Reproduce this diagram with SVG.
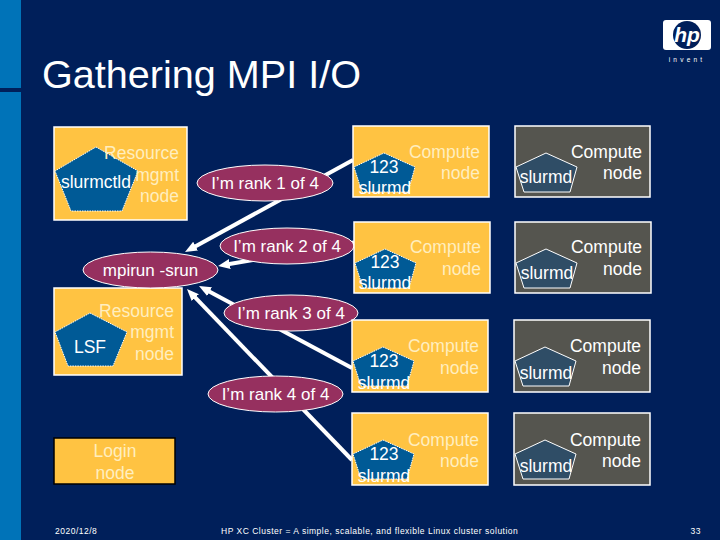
<svg xmlns="http://www.w3.org/2000/svg" width="720" height="540" viewBox="0 0 720 540">
<style>
text{font-family:"Liberation Sans",Arial,sans-serif;font-size:17.5px;fill:#fff}
.y{fill:#ffc342;stroke:#fff;stroke-width:1.5}
.g{fill:#55554f;stroke:#fff;stroke-width:1.5}
.p{fill:#005a96;stroke:#fff;stroke-width:1;stroke-dasharray:1.5 1}
.d{fill:#2f4d66;stroke:#fff;stroke-width:1}
.e{fill:#96305f;stroke:#fff;stroke-width:1}
.pale{fill:#ffeebf}
.r{text-anchor:end}
.m{text-anchor:middle}
.big{font-size:17px}
.f{font-size:8.5px;letter-spacing:.5px}
.c{stroke:#fff;stroke-width:4;fill:none;marker-end:url(#a)}
</style>
<defs>
<marker id="a" markerUnits="userSpaceOnUse" markerWidth="14" markerHeight="14" viewBox="0 0 14 14" refX="2" refY="7" orient="auto"><path d="M0 2L12 7L0 12Z" fill="#fff"/></marker>
<polygon id="pent" points="31,27 62,41 55,66 9,66 1,41"/>
</defs>
<rect width="720" height="540" fill="#001f5a"/>
<rect width="21" height="88" fill="#0073b8"/>
<rect y="92" width="21" height="448" fill="#0073b8"/>
<text x="42" y="88" style="font-size:39.6px">Gathering MPI I/O</text>
<g id="logo">
<rect x="663" y="20" width="48" height="30" rx="3" fill="#fff"/>
<circle cx="687" cy="35" r="14" fill="#001f5a"/>
<text x="687" y="42" class="m" style="font-size:21px;font-weight:bold;font-style:italic">hp</text>
<text x="687" y="62" class="m" style="font-size:6.5px;letter-spacing:3.2px">invent</text>
</g>
<g id="connectors">
<line class="c" x1="353" y1="160" x2="193.8" y2="247.2"/>
<line class="c" x1="354" y1="242.5" x2="227.9" y2="264.3"/>
<line class="c" x1="352" y1="368" x2="207.8" y2="290.7"/>
<line class="c" x1="352" y1="460" x2="193.9" y2="296.2"/>
</g>
<g id="slurmctld-node">
<rect class="y" x="54" y="127" width="133" height="93"/>
<polygon class="p" points="96,147 138,171 122,211 71,211 55,171"/>
<text class="r pale" x="179" y="159">Resource</text>
<text class="r pale" x="179" y="181">mgmt</text>
<text class="r pale" x="179" y="202">node</text>
<text class="m" x="96" y="194" style="display:none"></text>
<text class="m" x="96" y="194" dy="-6">slurmctld</text>
</g>
<g id="lsf-node">
<rect class="y" x="54" y="288" width="128" height="87"/>
<polygon class="p" points="90,313 127,332 113,366 68,366 55,332"/>
<text class="r pale" x="174" y="317">Resource</text>
<text class="r pale" x="174" y="338">mgmt</text>
<text class="r pale" x="174" y="360">node</text>
<text class="m" x="90" y="353">LSF</text>
</g>
<g id="login-node">
<rect x="54" y="438" width="121" height="46" fill="#ffc342" stroke="#000" stroke-width="1.5"/>
<text class="m pale" x="115" y="457">Login</text>
<text class="m pale" x="115" y="479">node</text>
</g>
<g id="mpirun"><ellipse class="e" cx="150.5" cy="270" rx="67.5" ry="18"/><text class="m big" x="150.5" y="276">mpirun -srun</text></g>
<g id="rank1"><ellipse class="e" cx="265" cy="183" rx="68" ry="18"/><text class="m big" x="265" y="189">I’m rank 1 of 4</text></g>
<g id="rank2"><ellipse class="e" cx="287" cy="246" rx="67" ry="18"/><text class="m big" x="287" y="252">I’m rank 2 of 4</text></g>
<g id="rank3"><ellipse class="e" cx="291" cy="313" rx="67" ry="18"/><text class="m big" x="291" y="319">I’m rank 3 of 4</text></g>
<g id="rank4"><ellipse class="e" cx="275.5" cy="394" rx="67.5" ry="18"/><text class="m big" x="275.5" y="400">I’m rank 4 of 4</text></g>
<g id="compute-1a" transform="translate(353,126)"><rect class="y" width="136" height="71"/><use href="#pent" class="p"/><text class="r pale" x="127" y="32">Compute</text><text class="r pale" x="127" y="53">node</text><text class="m" x="31" y="47">123</text><text class="m" x="32" y="68">slurmd</text></g>
<g id="compute-2a" transform="translate(354,222)"><rect class="y" width="136" height="71"/><use href="#pent" class="p"/><text class="r pale" x="127" y="31">Compute</text><text class="r pale" x="127" y="53">node</text><text class="m" x="31" y="46">123</text><text class="m" x="31" y="67">slurmd</text></g>
<g id="compute-3a" transform="translate(352,320)"><rect class="y" width="136" height="72"/><use href="#pent" class="p"/><text class="r pale" x="127" y="32">Compute</text><text class="r pale" x="127" y="54">node</text><text class="m" x="32" y="47">123</text><text class="m" x="32" y="69">slurmd</text></g>
<g id="compute-4a" transform="translate(352,413)"><rect class="y" width="136" height="72"/><use href="#pent" class="p"/><text class="r pale" x="127" y="33">Compute</text><text class="r pale" x="127" y="54">node</text><text class="m" x="32" y="47">123</text><text class="m" x="32" y="69">slurmd</text></g>
<g id="compute-1b" transform="translate(515,126)"><rect class="g" width="135" height="71"/><use href="#pent" class="d"/><text class="r" x="127" y="32">Compute</text><text class="r" x="127" y="53">node</text><text class="m" x="31" y="57">slurmd</text></g>
<g id="compute-2b" transform="translate(515,222)"><rect class="g" width="136" height="71"/><use href="#pent" class="d"/><text class="r" x="127" y="31">Compute</text><text class="r" x="127" y="53">node</text><text class="m" x="32" y="57">slurmd</text></g>
<g id="compute-3b" transform="translate(514,320)"><rect class="g" width="136" height="72"/><use href="#pent" class="d"/><text class="r" x="127" y="32">Compute</text><text class="r" x="127" y="54">node</text><text class="m" x="32" y="59">slurmd</text></g>
<g id="compute-4b" transform="translate(514,413)"><rect class="g" width="136" height="72"/><use href="#pent" class="d"/><text class="r" x="127" y="33">Compute</text><text class="r" x="127" y="54">node</text><text class="m" x="32" y="59">slurmd</text></g>
<text class="f" x="55" y="534">2020/12/8</text>
<text class="f" x="221" y="534">HP XC Cluster = A simple, scalable, and flexible Linux cluster solution</text>
<text class="f r" x="701" y="534">33</text>
</svg>
